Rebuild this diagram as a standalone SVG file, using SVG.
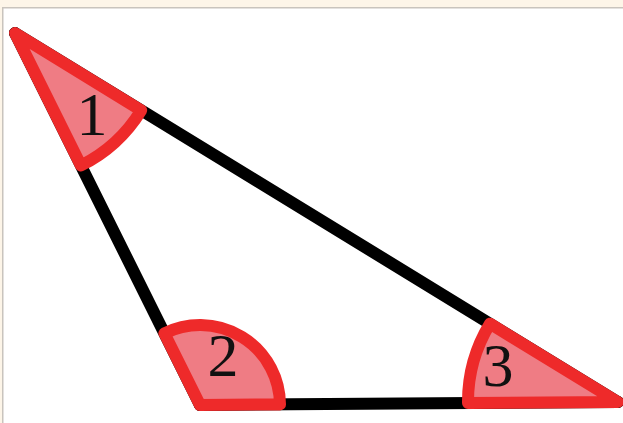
<svg xmlns="http://www.w3.org/2000/svg" width="623" height="423" viewBox="0 0 623 423">
<style>
.side{stroke:#000;stroke-width:12;stroke-linecap:round;fill:none}
.ang{fill:#ef7c84;stroke:#ee2a2a;stroke-width:12;stroke-linejoin:round}
.lbl{font-family:"Liberation Serif","Times New Roman",serif;font-size:62px;fill:#111;text-anchor:middle}
</style>
<rect x="0" y="0" width="623" height="423" fill="#fff"/>
<rect x="0" y="0" width="623" height="7" fill="#fdf5e8"/>
<rect x="0" y="0" width="2" height="423" fill="#fdf5e8"/>
<rect x="2" y="7" width="621" height="1.5" fill="#c9c4bd"/>
<rect x="2" y="7" width="1.5" height="416" fill="#c9c4bd"/>
<g id="connectors">
<line class="side" x1="15" y1="33" x2="200" y2="405"/>
<line class="side" x1="200" y1="405" x2="618" y2="402"/>
<line class="side" x1="618" y1="402" x2="15" y2="33"/>
</g>
<g id="angle1">
<path class="ang" d="M15,33 L141.2,110.3 A148,148 0 0 1 80.9,165.5 Z"/>
<text class="lbl" x="92" y="135">1</text>
</g>
<g id="angle2">
<path class="ang" d="M200,405 L164.4,333.4 A80,80 0 0 1 280,404.4 Z"/>
<text class="lbl" x="223" y="376">2</text>
</g>
<g id="angle3">
<path class="ang" d="M618,402 L468,403 A150,150 0 0 1 490,323.7 Z"/>
<text class="lbl" x="498" y="386">3</text>
</g>
</svg>
